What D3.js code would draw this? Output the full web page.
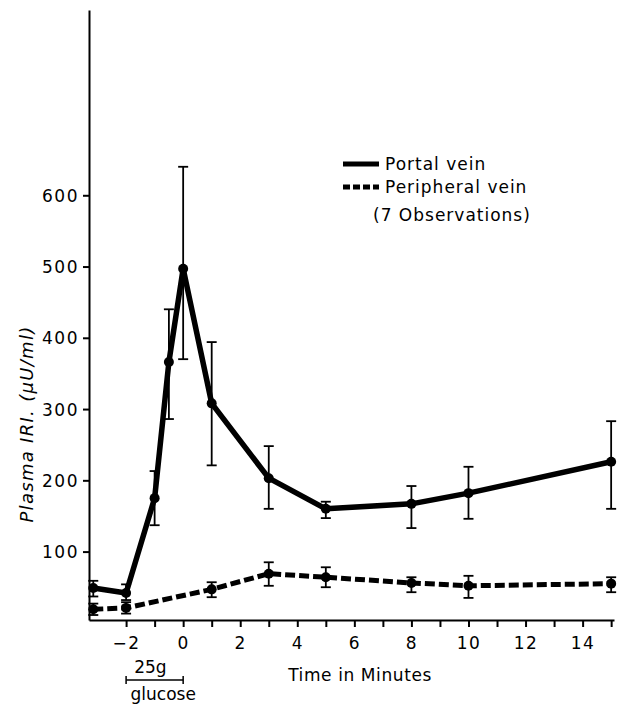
<!DOCTYPE html>
<html>
<head>
<meta charset="utf-8">
<script src="https://cdn.jsdelivr.net/npm/d3@7"></script>
<style>
  body { margin: 0; background: #fff; }
  svg { display: block; background: #fff; }
  .axis text { font-family: "DejaVu Sans", sans-serif; font-size: 17px; letter-spacing: 1.5px; fill: #000; }
  .axis path, .axis line { stroke: #000; stroke-width: 2; }
  .lbl { font-family: "DejaVu Sans", sans-serif; font-size: 17px; fill: #000; }
</style>
</head>
<body>
<svg id="chart" width="617" height="706"></svg>
<script>
// values (minutes vs plasma IRI, uU/ml)
const portalTimes = [-3.15, -2, -1, -0.5, 0, 1, 3, 5, 8, 10, 15];
const portal   = [49, 42, 175, 366, 497, 308, 203, 160, 167, 182, 226];
const portalHi = [59, 54, 213, 440, 640, 394, 248, 170, 192, 219, 283];
const portalLo = [37, 32, 137, 286, 370, 221, 160, 147, 133, 146, 160];

const periTimes = [-3.15, -2, 1, 3, 5, 8, 10, 15];
const peripheral = [19, 21, 47, 69, 64, 56, 52, 55];
const periHi     = [27, 29, 57, 85, 78, 64, 66, 64];
const periLo     = [11, 13, 36, 52, 50, 43, 35, 43];

const yTicks = [100, 200, 300, 400, 500, 600];
const xTicks = d3.range(-2, 16);
const xLabelled = [-2, 0, 2, 4, 6, 8, 10, 12, 14];

const svg = d3.select("#chart");

const x = d3.scaleLinear().domain([-3.3, 15.1]).range([89, 614]);
const y = d3.scaleLinear().domain([4, 860]).range([620, 10]);

// axes
svg.append("g")
  .attr("class", "axis")
  .attr("transform", `translate(${x(-3.3)},0)`)
  .call(d3.axisLeft(y).tickValues(yTicks).tickSize(6).tickSizeOuter(0).tickPadding(4))
  .selectAll("text").attr("dy", "0.36em");

svg.append("g")
  .attr("class", "axis")
  .attr("transform", `translate(0,${y(4)})`)
  .call(d3.axisBottom(x).tickValues(xTicks).tickSize(7).tickSizeOuter(0).tickPadding(10)
    .tickFormat(d => xLabelled.includes(d) ? d3.format("")(d) : ""));

svg.append("text")
  .attr("class", "lbl")
  .attr("x", x(6.2)).attr("y", 681)
  .attr("text-anchor", "middle")
  .style("letter-spacing", "0.6px")
  .text("Time in Minutes");

svg.append("text")
  .attr("class", "lbl")
  .attr("transform", `translate(33,${y(279)}) rotate(-90)`)
  .attr("text-anchor", "middle")
  .style("font-size", "18px")
  .style("font-style", "italic")
  .style("letter-spacing", "1.3px")
  .text("Plasma IRI. (\u03bcU/ml)");

// 25 g glucose bracket
const by = 680;
const br = svg.append("g").attr("stroke", "#000").attr("stroke-width", 1.5);
br.append("line").attr("x1", x(-2)).attr("x2", x(0)).attr("y1", by).attr("y2", by);
br.append("line").attr("x1", x(-2)).attr("x2", x(-2)).attr("y1", by - 4).attr("y2", by + 4);
br.append("line").attr("x1", x(0)).attr("x2", x(0)).attr("y1", by - 4).attr("y2", by + 4);
svg.append("text").attr("class", "lbl").attr("x", x(-1.15)).attr("y", 673)
  .attr("text-anchor", "middle").text("25g");
svg.append("text").attr("class", "lbl").attr("x", x(-0.7)).attr("y", 700)
  .attr("text-anchor", "middle").text("glucose");

// series
function series(times, vals, hi, lo, dash, width) {
  const pts = times.map((t, i) => ({t, v: vals[i], hi: hi[i], lo: lo[i]}));
  const line = d3.line().x(d => x(d.t)).y(d => y(d.v));
  const g = svg.append("g");
  const eb = g.selectAll(".eb").data(pts).enter().append("g")
    .attr("stroke", "#000").attr("stroke-width", 1.8);
  eb.append("line").attr("x1", d => x(d.t)).attr("x2", d => x(d.t))
    .attr("y1", d => y(d.hi)).attr("y2", d => y(d.lo));
  eb.append("line").attr("x1", d => x(d.t) - 5).attr("x2", d => x(d.t) + 5)
    .attr("y1", d => y(d.hi)).attr("y2", d => y(d.hi));
  eb.append("line").attr("x1", d => x(d.t) - 5).attr("x2", d => x(d.t) + 5)
    .attr("y1", d => y(d.lo)).attr("y2", d => y(d.lo));
  g.append("path")
    .attr("d", line(pts))
    .style("fill", "none")
    .style("stroke", "#000")
    .style("stroke-width", width)
    .style("stroke-linejoin", "round")
    .style("stroke-dasharray", dash);
  g.selectAll("circle").data(pts).enter().append("circle")
    .attr("cx", d => x(d.t)).attr("cy", d => y(d.v)).attr("r", 5).attr("fill", "#000");
}
series(portalTimes, portal, portalHi, portalLo, null, 5.5);
series(periTimes, peripheral, periHi, periLo, "10,4", 5);

// legend
const lg = svg.append("g");
lg.append("line").attr("x1", 343).attr("x2", 379).attr("y1", 164).attr("y2", 164)
  .attr("stroke", "#000").attr("stroke-width", 5);
lg.append("line").attr("x1", 343).attr("x2", 379).attr("y1", 187).attr("y2", 187)
  .attr("stroke", "#000").attr("stroke-width", 5).attr("stroke-dasharray", "7,3");
lg.append("text").attr("class", "lbl").attr("x", 385).attr("y", 170).style("letter-spacing", "1px").text("Portal vein");
lg.append("text").attr("class", "lbl").attr("x", 385).attr("y", 193).style("letter-spacing", "1px").text("Peripheral vein");
lg.append("text").attr("class", "lbl").attr("x", 373).attr("y", 221).style("letter-spacing", "1px").text("(7 Observations)");
</script>
</body>
</html>
